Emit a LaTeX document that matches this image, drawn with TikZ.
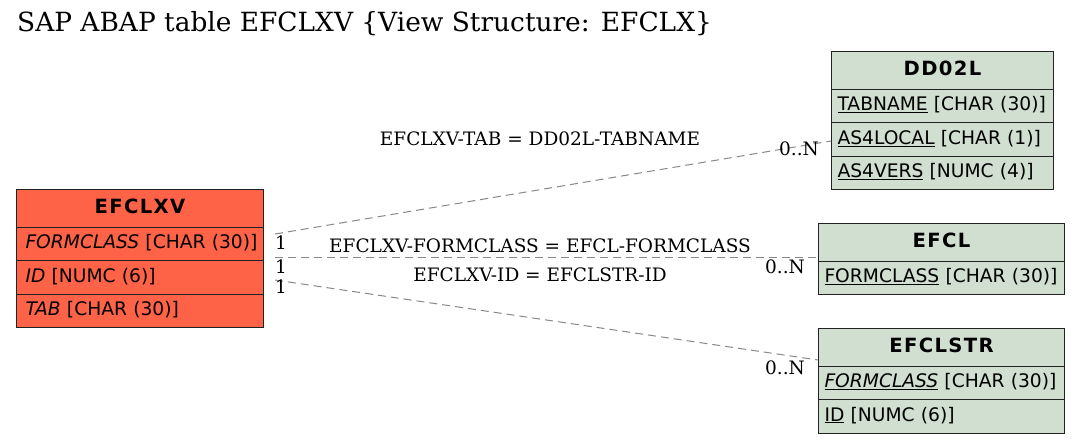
\documentclass[tikz,border=0pt]{standalone}
\usepackage{fontspec}
\setmainfont{DejaVu Serif}
\setsansfont{DejaVu Sans}
\definecolor{redfill}{HTML}{FF6347}
\definecolor{greenfill}{HTML}{D0DFD0}
\definecolor{edgegray}{HTML}{888888}
\definecolor{boxline}{HTML}{222222}
\tikzset{
  tcell/.style={draw=boxline, line width=1pt, anchor=north west, inner xsep=6pt, inner ysep=0pt,
    minimum width=#1, text width=#1-12pt, minimum height=33.4pt, align=left,
    text height=14pt, text depth=5pt,
    font=\sffamily\fontsize{18.67}{20}\selectfont},
  thead/.style={draw=boxline, line width=1pt, anchor=north west, inner xsep=6pt, inner ysep=0pt,
    minimum width=#1, text width=#1-12pt, minimum height=38pt, align=center,
    text height=14.5pt, text depth=5pt,
    font=\sffamily\bfseries\fontsize{19.6}{21}\selectfont\addfontfeatures{LetterSpace=7}},
  red/.style={fill=redfill},
  redrow/.style={fill=redfill, execute at begin node={\hspace*{3pt}}},
  green/.style={fill=greenfill},
  rel/.style={draw=edgegray, line width=1pt, dash pattern=on 8pt off 5pt},
  rellabel/.style={font=\fontsize{18.5}{20}\selectfont, inner sep=0pt},
  card/.style={font=\fontsize{18.5}{20}\selectfont, inner sep=0pt},
}
\begin{document}
\begin{tikzpicture}[x=1pt,y=-1pt]
\useasboundingbox (0,0) rectangle (1081,443);
\node[anchor=base west, inner sep=0pt, font=\fontsize{26.4}{30}\selectfont] (title) at (17,31.5) {SAP ABAP table EFCLXV \{View Structure: EFCLX\}};

% EFCLXV
\node[thead=247pt, red] (a0) at (16,189) {EFCLXV};
\node[tcell=247pt, redrow] (a1) at (16,227) {\textit{FORMCLASS} [CHAR (30)]};
\node[tcell=247pt, redrow] (a2) at (16,260.4) {\textit{ID} [NUMC (6)]};
\node[tcell=247pt, redrow] (a3) at (16,293.8) {\textit{TAB} [CHAR (30)]};

% DD02L
\node[thead=222pt, green] (b0) at (831,51) {DD02L};
\node[tcell=222pt, green] (b1) at (831,89) {\underline{TABNAME} [CHAR (30)]};
\node[tcell=222pt, green] (b2) at (831,122.4) {\underline{AS4LOCAL} [CHAR (1)]};
\node[tcell=222pt, green] (b3) at (831,155.8) {\underline{AS4VERS} [NUMC (4)]};

% EFCL
\node[thead=246pt, green] (c0) at (818,223) {EFCL};
\node[tcell=246pt, green] (c1) at (818,261) {\underline{FORMCLASS} [CHAR (30)]};

% EFCLSTR
\node[thead=246pt, green] (d0) at (818,328) {EFCLSTR};
\node[tcell=246pt, green] (d1) at (818,366) {\underline{\textit{FORMCLASS}} [CHAR (30)]};
\node[tcell=246pt, green] (d2) at (818,399.4) {\underline{ID} [NUMC (6)]};

% connector ends
\coordinate (s1) at (275,234);
\coordinate (e1) at (831,141);
\coordinate (s2) at (275,258);
\coordinate (e2) at (818,258);
\coordinate (s3) at (275,280);
\coordinate (e3) at (818,360);

\draw[rel] (s1) -- (e1);
\draw[rel] (s2) -- (e2);
\draw[rel] (s3) -- (e3);

\node[rellabel] (l1) at (540,139) {EFCLXV-TAB = DD02L-TABNAME};
\node[rellabel] (l2) at (540,246) {EFCLXV-FORMCLASS = EFCL-FORMCLASS};
\node[rellabel] (l3) at (540,275) {EFCLXV-ID = EFCLSTR-ID};

\node[card] (o1) at (281,243) {1};
\node[card] (o2) at (281,267) {1};
\node[card] (o3) at (281,287) {1};
\node[card] (n1) at (799,149) {0..N};
\node[card] (n2) at (785,267) {0..N};
\node[card] (n3) at (785,368) {0..N};
\end{tikzpicture}
\end{document}
